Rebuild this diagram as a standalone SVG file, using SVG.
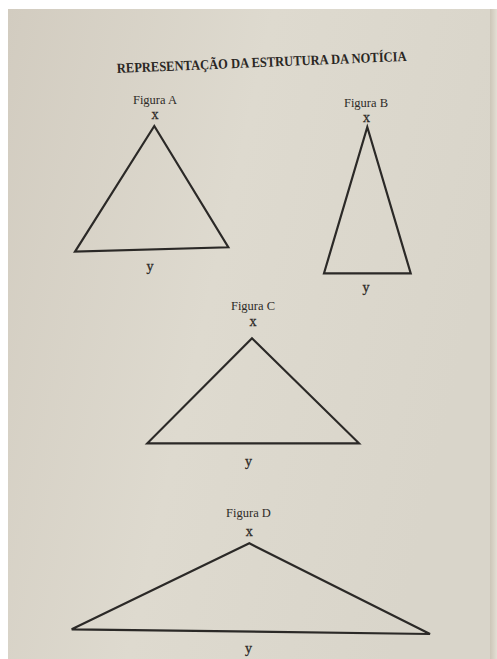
<svg xmlns="http://www.w3.org/2000/svg" width="497" height="659" viewBox="0 0 497 659">
  <defs>
    <linearGradient id="paper" x1="0" y1="0" x2="1" y2="0.3">
      <stop offset="0" stop-color="#d2ccc0"/>
      <stop offset="0.5" stop-color="#dedacf"/>
      <stop offset="1" stop-color="#d9d5ca"/>
    </linearGradient>
    <linearGradient id="fold" x1="0" y1="0" x2="1" y2="0">
      <stop offset="0" stop-color="#cdc6b8"/>
      <stop offset="1" stop-color="#e4dfd4"/>
    </linearGradient>
  </defs>
  <style>
    .tri { fill: none; stroke: #2b2927; stroke-width: 2.2; stroke-linejoin: miter; }
    .lbl { font-family: "Liberation Serif", "DejaVu Serif", serif; font-size: 12.5px; fill: #2e2b28; text-anchor: middle; }
    .var { font-family: "Liberation Serif", "DejaVu Serif", serif; font-size: 14px; fill: #2e2b28; text-anchor: middle; stroke: #2e2b28; stroke-width: 0.3; }
    .title { font-family: "Liberation Serif", "DejaVu Serif", serif; font-size: 14px; font-weight: bold; fill: #2a2724; }
  </style>
  <rect x="0" y="0" width="497" height="659" fill="#ffffff"/>
  <rect x="8" y="9" width="489" height="650" fill="url(#paper)"/>
  <rect x="490" y="9" width="7" height="650" fill="url(#fold)"/>

  <text class="title" x="117" y="73" textLength="290" lengthAdjust="spacingAndGlyphs" transform="rotate(-2.4 117 73)">REPRESENTAÇÃO DA ESTRUTURA DA NOTÍCIA</text>

  <g id="figura-a">
    <text class="lbl" x="155" y="104">Figura A</text>
    <text class="var" x="155" y="119">x</text>
    <polygon class="tri" points="154.3,126 75,251.7 228.3,247.3"/>
    <text class="var" x="150" y="271">y</text>
  </g>

  <g id="figura-b">
    <text class="lbl" x="366" y="107">Figura B</text>
    <text class="var" x="366.5" y="122">x</text>
    <polygon class="tri" points="367.3,127 324,273.3 410.7,273.3"/>
    <text class="var" x="366" y="292">y</text>
  </g>

  <g id="figura-c">
    <text class="lbl" x="253" y="310">Figura C</text>
    <text class="var" x="253" y="326">x</text>
    <polygon class="tri" points="252,338.3 147.3,443.3 359,443.3"/>
    <text class="var" x="248.5" y="466">y</text>
  </g>

  <g id="figura-d">
    <text class="lbl" x="248.5" y="517">Figura D</text>
    <text class="var" x="249.3" y="536">x</text>
    <polygon class="tri" points="249.3,543.3 71.7,629.3 430,634"/>
    <text class="var" x="248.5" y="653">y</text>
  </g>

  <g id="connectors"></g>
</svg>
